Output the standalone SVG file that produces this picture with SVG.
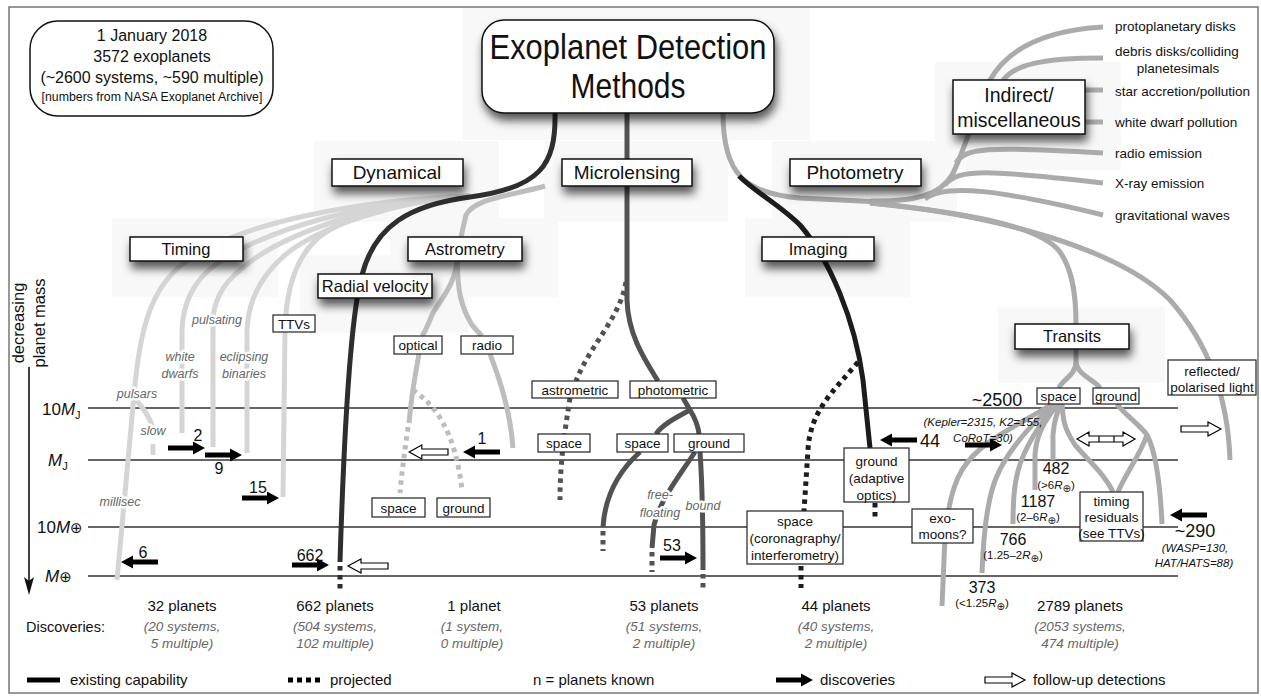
<svg xmlns="http://www.w3.org/2000/svg" width="1261" height="696" viewBox="0 0 1261 696">
<defs>
<style>
text { font-family: 'Liberation Sans', Arial, 'DejaVu Sans', sans-serif; fill:#111; }
.box { fill:#fff; stroke:#222; stroke-width:1.2; }
.sbox { fill:#fff; stroke:#111; stroke-width:1.5; filter:url(#sh); }
.bg { fill:#f8f8f8; }
.ln { fill:none; stroke-width:5; }
.tim { stroke:#d5d5d5; }
.ast { stroke:#bdbdbd; }
.pho { stroke:#ababab; }
.mic { stroke:#525252; }
.dyn { stroke:#2e2e2e; }
.img { stroke:#1c1c1c; }
.dot { stroke-dasharray:4.5 4.5; }
.axis { stroke:#333; stroke-width:1.4; fill:none; }
.it { font-style:italic; fill:#666; font-size:12.5px; stroke:#fff; stroke-width:5; paint-order:stroke; stroke-linejoin:round; }
.b2 { font-size:16.5px; text-anchor:middle; }
.b1 { font-size:19px; text-anchor:middle; }
.s { font-size:13.5px; text-anchor:middle; }
.n { font-size:16px; text-anchor:middle; }
.sm { font-size:11.5px; text-anchor:middle; }
.ind { font-size:13.5px; }
.dc { font-size:15px; text-anchor:middle; }
.di { font-size:13.5px; text-anchor:middle; font-style:italic; fill:#666; }
.lg { font-size:15px; }
</style>
<filter id="sh" x="-30%" y="-40%" width="170%" height="230%">
<feDropShadow dx="2" dy="7" stdDeviation="5" flood-color="#000" flood-opacity="0.65"/>
</filter>
<path id="ar" d="M0,-2.6 H25 V-6.5 L37,0 L25,6.5 V2.6 H0 Z" fill="#000"/>
<path id="oar" d="M0,-3 H27 V-7 L40,0 L27,7 V3 H0 Z" fill="#fff" stroke="#000" stroke-width="1.2"/>
</defs>
<rect width="1261" height="696" fill="#fff"/>
<rect x="9" y="7" width="1249" height="686" fill="none" stroke="#777" stroke-width="1.5"/>

<g id="shadow-backgrounds">
<rect class="bg" x="463" y="8" width="347" height="132"/>
<rect class="bg" x="314" y="141" width="185" height="81"/>
<rect class="bg" x="544" y="141" width="184" height="81"/>
<rect class="bg" x="772" y="141" width="185" height="81"/>
<rect class="bg" x="935" y="62" width="186" height="108"/>
<rect class="bg" x="112" y="218" width="166" height="79"/>
<rect class="bg" x="300" y="255" width="168" height="78"/>
<rect class="bg" x="390" y="218" width="168" height="79"/>
<rect class="bg" x="745" y="218" width="165" height="79"/>
<rect class="bg" x="998" y="307" width="167" height="76"/>
</g>

<g id="scale">
<line class="axis" x1="88" y1="408" x2="1178" y2="408"/>
<line class="axis" x1="88" y1="460" x2="1178" y2="460"/>
<line class="axis" x1="88" y1="527" x2="1178" y2="527"/>
<line class="axis" x1="88" y1="576" x2="1178" y2="576"/>
<line x1="29" y1="367" x2="29" y2="582" stroke="#111" stroke-width="1.6"/>
<path d="M24,577 L29,595 L34,577 L29,581 Z" fill="#111"/>
<text transform="translate(24,323) rotate(-90)" font-size="16.5" text-anchor="middle">decreasing</text>
<text transform="translate(45,323) rotate(-90)" font-size="16.5" text-anchor="middle">planet mass</text>
<text x="42" y="415" font-size="17">10<tspan font-style="italic">M</tspan><tspan font-size="11" dy="4">J</tspan></text>
<text x="48" y="466" font-size="17"><tspan font-style="italic">M</tspan><tspan font-size="11" dy="4">J</tspan></text>
<text x="37" y="533" font-size="17">10<tspan font-style="italic">M</tspan><tspan font-size="15">⊕</tspan></text>
<text x="45" y="582" font-size="17"><tspan font-style="italic">M</tspan><tspan font-size="15">⊕</tspan></text>
</g>

<g id="connectors">
<!-- timing -->
<path class="ln tim" d="M470,196 C360,200 240,222 185,262 C152,287 140,325 134,395 L117,580"/>
<path class="ln tim" d="M136,400 C145,410 150,418 153,428"/>
<path class="ln tim" d="M153,444 V455"/>
<path class="ln tim" d="M470,196 C380,200 270,225 215,265 C195,280 183,300 182,330 L182,433"/>
<path class="ln tim" d="M470,196 C390,200 295,228 250,262 C228,278 214,295 213,320 L213,447"/>
<path class="ln tim" d="M470,196 C400,200 320,226 285,255 C262,275 248,300 247,330 L247,453"/>
<path class="ln tim" d="M470,196 C420,200 350,212 318,238 C295,258 286,290 285,330 L283,497"/>
<!-- astrometry -->
<path class="ln ast" d="M545,186 C510,196 475,198 466,215 L461,237"/>
<path class="ln ast" d="M457,261 C455,285 440,300 432,315 C428,325 425,332 422,336"/>
<path class="ln ast" d="M419,354 C415,375 411,400 409,423"/>
<path class="ln ast dot" d="M408,427 C405,450 402,470 400,493"/>
<path class="ln ast dot" d="M413,390 C435,405 455,430 462,490"/>
<path class="ln ast" d="M457,261 C458,290 460,305 472,325 C478,332 480,334 482,336"/>
<path class="ln ast" d="M490,354 C500,380 510,410 513,448"/>
<!-- dynamical / radial velocity -->
<path class="ln dyn" d="M555,113 C556,165 540,188 470,197 C410,205 375,225 362,275 C352,310 345,400 340,562"/>
<path class="ln dyn dot" d="M340,566 V590"/>
<!-- microlensing -->
<path class="ln mic" d="M627,113 L627,300 C628,335 645,360 658,381"/>
<path class="ln mic dot" d="M626,282 C620,318 590,345 576,381"/>
<path class="ln mic dot" d="M570,398 C565,430 560,460 560,500"/>
<path class="ln mic" d="M683,398 L690,410 C695,418 698,425 699,434"/>
<path class="ln mic" d="M690,410 C675,418 662,425 656,434"/>
<path class="ln mic" d="M640,452 C620,470 605,495 603,527"/>
<path class="ln mic dot" d="M603,531 V551"/>
<path class="ln mic" d="M695,452 C680,475 660,500 654,525 L652,548"/>
<path class="ln mic dot" d="M652,552 V572"/>
<path class="ln mic" d="M700,452 C702,480 703,500 703,570"/>
<path class="ln mic dot" d="M703,574 V592"/>
<!-- photometry -->
<path class="ln pho" d="M723,113 C723,175 745,193 800,198 L880,202"/>
<path class="ln pho" d="M870,201 C915,202 940,195 952,175 C965,150 975,110 990,80 C1010,45 1050,30 1103,27"/>
<path class="ln pho" d="M1003,80 C1015,65 1040,58 1103,58"/>
<path class="ln pho" d="M1085,90 H1103"/>
<path class="ln pho" d="M1085,122 H1103"/>
<path class="ln pho" d="M956,163 C965,148 985,146 1103,153"/>
<path class="ln pho" d="M945,185 C958,168 990,170 1103,183"/>
<path class="ln pho" d="M925,199 C945,183 1000,190 1103,215"/>
<path class="ln pho" d="M870,203 C960,212 1040,225 1060,252 C1074,272 1076,300 1076,324"/>
<path class="ln pho" d="M870,203 C1000,215 1120,250 1170,300 C1210,345 1228,400 1230,460"/>
<path class="ln pho" d="M1076,349 L1076,362 C1076,375 1062,380 1059,388"/>
<path class="ln pho" d="M1076,362 C1077,375 1095,380 1100,388"/>
<path class="ln pho" d="M1052,404 C1020,425 980,440 962,470 C950,490 945,520 944,560 L942,606"/>
<path class="ln pho" d="M1054,404 C1025,430 1000,460 992,490 C985,515 983,545 982,573"/>
<path class="ln pho" d="M1056,404 C1035,430 1020,455 1016,480 C1013,495 1013,510 1013,524"/>
<path class="ln pho" d="M1058,404 C1045,420 1036,435 1035,455 L1035,490"/>
<path class="ln pho" d="M1060,404 C1055,420 1052,430 1053,445 L1053,460"/>
<path class="ln pho" d="M1062,404 C1063,420 1064,428 1075,445 C1090,462 1105,475 1113,492"/>
<path class="ln pho" d="M1117,404 C1125,415 1140,425 1147,435 C1155,450 1160,480 1162,524"/>
<path class="ln pho" d="M1147,435 C1140,455 1125,475 1118,492"/>
<!-- imaging -->
<path class="ln img" d="M739,176 C755,192 780,205 800,225 C830,260 855,320 863,380 L870,448"/>
<path class="ln img dot" d="M858,362 C835,390 810,410 808,450 L804,511"/>
<path class="ln img dot" d="M801,566 V588"/>
<path class="ln img dot" d="M875,503 V521"/>
</g>

<g id="info-box">
<rect x="30" y="21" width="243" height="95" rx="28" fill="#fff" stroke="#111" stroke-width="1.5"/>
<text x="152" y="41" font-size="16" text-anchor="middle">1 January 2018</text>
<text x="152" y="62" font-size="16" text-anchor="middle">3572 exoplanets</text>
<text x="152" y="83" font-size="16" text-anchor="middle">(~2600 systems, ~590 multiple)</text>
<text x="152" y="101" font-size="12.3" text-anchor="middle" fill="#777">[numbers from NASA Exoplanet Archive]</text>
</g>

<g id="title">
<rect class="sbox" x="482" y="20" width="292" height="93" rx="22"/>
<text x="628" y="59" font-size="35" text-anchor="middle" textLength="277" lengthAdjust="spacingAndGlyphs">Exoplanet Detection</text>
<text x="628" y="98" font-size="35" text-anchor="middle" textLength="115" lengthAdjust="spacingAndGlyphs">Methods</text>
</g>

<g id="dynamical"><rect class="sbox" x="332" y="159" width="131" height="27"/><text class="b1" x="397" y="179">Dynamical</text></g>
<g id="microlensing"><rect class="sbox" x="562" y="159" width="130" height="27"/><text class="b1" x="627" y="179">Microlensing</text></g>
<g id="photometry"><rect class="sbox" x="790" y="159" width="131" height="27"/><text class="b1" x="855" y="179">Photometry</text></g>
<g id="indirect"><rect class="sbox" x="953" y="80" width="132" height="54"/>
<text x="1019" y="102" font-size="19.5" text-anchor="middle">Indirect/</text>
<text x="1019" y="127" font-size="19.5" text-anchor="middle">miscellaneous</text></g>

<g id="indirect-labels">
<text class="ind" x="1115" y="31">protoplanetary disks</text>
<text class="ind" x="1115" y="56">debris disks/colliding</text>
<text class="ind" x="1178" y="73" text-anchor="middle">planetesimals</text>
<text class="ind" x="1115" y="96">star accretion/pollution</text>
<text class="ind" x="1115" y="127">white dwarf pollution</text>
<text class="ind" x="1115" y="158">radio emission</text>
<text class="ind" x="1115" y="188">X-ray emission</text>
<text class="ind" x="1115" y="220">gravitational waves</text>
</g>

<g id="timing"><rect class="sbox" x="130" y="237" width="113" height="24"/><text class="b2" x="186" y="255">Timing</text></g>
<g id="radial-velocity"><rect class="sbox" x="318" y="274" width="114" height="24"/><text class="b2" x="375" y="292">Radial velocity</text></g>
<g id="astrometry"><rect class="sbox" x="408" y="237" width="114" height="24"/><text class="b2" x="465" y="255">Astrometry</text></g>
<g id="imaging"><rect class="sbox" x="762" y="237" width="112" height="24"/><text class="b2" x="818" y="255">Imaging</text></g>
<g id="transits"><rect class="sbox" x="1015" y="324" width="114" height="25"/><text class="b2" x="1072" y="342">Transits</text></g>

<g id="timing-labels">
<text class="it" x="137" y="398" text-anchor="middle">pulsars</text>
<text class="it" x="153" y="435" text-anchor="middle">slow</text>
<text class="it" x="120" y="506" text-anchor="middle">millisec</text>
<text class="it" x="180" y="361" text-anchor="middle">white</text>
<text class="it" x="180" y="378" text-anchor="middle">dwarfs</text>
<text class="it" x="217" y="324" text-anchor="middle">pulsating</text>
<text class="it" x="244" y="361" text-anchor="middle">eclipsing</text>
<text class="it" x="244" y="378" text-anchor="middle">binaries</text>
</g>
<g id="ttvs"><rect class="box" x="273" y="315" width="42" height="17"/><text class="s" x="294" y="328.5">TTVs</text></g>

<g id="optical"><rect class="box" x="394" y="336" width="48" height="18"/><text class="s" x="418" y="350">optical</text></g>
<g id="radio"><rect class="box" x="461" y="336" width="52" height="18"/><text class="s" x="487" y="350">radio</text></g>
<g id="astro-space"><rect class="box" x="372" y="498" width="53" height="19"/><text class="s" x="398.5" y="512.5">space</text></g>
<g id="astro-ground"><rect class="box" x="437" y="498" width="53" height="19"/><text class="s" x="463.5" y="512.5">ground</text></g>

<g id="astrometric"><rect class="box" x="532" y="381" width="86" height="17"/><text class="s" x="575" y="394.5">astrometric</text></g>
<g id="photometric"><rect class="box" x="630" y="381" width="86" height="17"/><text class="s" x="673" y="394.5">photometric</text></g>
<g id="micro-space-a"><rect class="box" x="538" y="434" width="52" height="18"/><text class="s" x="564" y="448">space</text></g>
<g id="micro-space-p"><rect class="box" x="617" y="434" width="51" height="18"/><text class="s" x="642.5" y="448">space</text></g>
<g id="micro-ground"><rect class="box" x="674" y="434" width="70" height="18"/><text class="s" x="709" y="448">ground</text></g>
<g id="micro-labels">
<text class="it" x="660" y="499" text-anchor="middle">free-</text>
<text class="it" x="660" y="517" text-anchor="middle">floating</text>
<text class="it" x="703" y="510" text-anchor="middle">bound</text>
</g>

<g id="img-ground"><rect class="box" x="844" y="448" width="65" height="54"/>
<text class="s" x="876.5" y="466">ground</text><text class="s" x="876.5" y="483">(adaptive</text><text class="s" x="876.5" y="500">optics)</text></g>
<g id="img-space"><rect class="box" x="747" y="511" width="96" height="53"/>
<text class="s" x="795" y="526">space</text><text class="s" x="795" y="543">(coronagraphy/</text><text class="s" x="795" y="560">interferometry)</text></g>

<g id="tr-space"><rect class="box" x="1037" y="388" width="43" height="16"/><text class="s" x="1058.5" y="401">space</text></g>
<g id="tr-ground"><rect class="box" x="1093" y="388" width="46" height="16"/><text class="s" x="1116" y="401">ground</text></g>
<g id="reflected"><rect class="box" x="1168" y="360" width="88" height="35"/>
<text class="s" x="1212" y="376">reflected/</text><text class="s" x="1212" y="392">polarised light</text></g>
<g id="exomoons"><rect class="box" x="912" y="509" width="61" height="34"/>
<text class="s" x="942.5" y="523">exo-</text><text class="s" x="942.5" y="539">moons?</text></g>
<g id="timing-residuals"><rect class="box" x="1080" y="492" width="63" height="49"/>
<text class="s" x="1111.5" y="506">timing</text><text class="s" x="1111.5" y="522">residuals</text><text class="s" x="1111.5" y="538">(see TTVs)</text></g>

<g id="discovery-arrows">
<use href="#ar" transform="translate(168,448)"/>
<use href="#ar" transform="translate(205,455)"/>
<use href="#ar" transform="translate(242,498)"/>
<use href="#ar" transform="translate(158,562) scale(-1,1)"/>
<use href="#ar" transform="translate(292,565)"/>
<use href="#oar" transform="translate(388,566) scale(-1,1)"/>
<use href="#ar" transform="translate(500,452) scale(-1,1)"/>
<use href="#oar" transform="translate(448,452) scale(-0.97,1)"/>
<use href="#ar" transform="translate(660,558)"/>
<use href="#ar" transform="translate(917,440) scale(-1,1)"/>
<use href="#ar" transform="translate(965,445)"/>
<use href="#ar" transform="translate(1207,515) scale(-1,1)"/>
<use href="#oar" transform="translate(1181,429)"/>
<g transform="translate(1077,439)" fill="#fff" stroke="#000" stroke-width="1.2">
<path d="M0,0 L12,-7 V-3 H46 V-7 L58,0 L46,7 V3 H12 V7 Z"/>
<path d="M22,-3 V3 M37,-3 V3" fill="none"/>
</g>
</g>

<g id="counts">
<text class="n" x="198" y="441">2</text>
<text class="n" x="219" y="474">9</text>
<text class="n" x="258" y="493">15</text>
<text class="n" x="143" y="558">6</text>
<text class="n" x="310" y="561">662</text>
<text class="n" x="482" y="444">1</text>
<text class="n" x="672" y="551">53</text>
<text x="930" y="447" font-size="18" text-anchor="middle">44</text>
<text x="997" y="406" font-size="18" text-anchor="middle">~2500</text>
<text class="sm" x="983" y="426" font-style="italic" fill="#333">(Kepler=2315, K2=155,</text>
<text class="sm" x="983" y="442" font-style="italic" fill="#333">CoRoT=30)</text>
<text x="1195" y="537" font-size="18" text-anchor="middle">~290</text>
<text class="sm" x="1195" y="552" font-style="italic" fill="#333">(WASP=130,</text>
<text class="sm" x="1194" y="567" font-style="italic" fill="#333">HAT/HATS=88)</text>
<text class="n" x="1056" y="474">482</text>
<text class="sm" x="1056" y="489">(&gt;6<tspan font-style="italic">R</tspan><tspan font-size="10" dy="3">⊕</tspan><tspan dy="-3">)</tspan></text>
<text class="n" x="1038" y="507">1187</text>
<text class="sm" x="1038" y="521">(2–6<tspan font-style="italic">R</tspan><tspan font-size="10" dy="3">⊕</tspan><tspan dy="-3">)</tspan></text>
<text class="n" x="1013" y="545">766</text>
<text class="sm" x="1013" y="559">(1.25–2<tspan font-style="italic">R</tspan><tspan font-size="10" dy="3">⊕</tspan><tspan dy="-3">)</tspan></text>
<text class="n" x="982" y="593">373</text>
<text class="sm" x="982" y="607">(&lt;1.25<tspan font-style="italic">R</tspan><tspan font-size="10" dy="3">⊕</tspan><tspan dy="-3">)</tspan></text>
</g>

<g id="discoveries">
<text x="26" y="632" font-size="14.5">Discoveries:</text>
<text class="dc" x="182" y="611">32 planets</text>
<text class="di" x="182" y="631">(20 systems,</text>
<text class="di" x="182" y="648">5 multiple)</text>
<text class="dc" x="335" y="611">662 planets</text>
<text class="di" x="335" y="631">(504 systems,</text>
<text class="di" x="335" y="648">102 multiple)</text>
<text class="dc" x="474" y="611">1 planet</text>
<text class="di" x="472" y="631">(1 system,</text>
<text class="di" x="472" y="648">0 multiple)</text>
<text class="dc" x="664" y="611">53 planets</text>
<text class="di" x="664" y="631">(51 systems,</text>
<text class="di" x="664" y="648">2 multiple)</text>
<text class="dc" x="836" y="611">44 planets</text>
<text class="di" x="836" y="631">(40 systems,</text>
<text class="di" x="836" y="648">2 multiple)</text>
<text class="dc" x="1080" y="611">2789 planets</text>
<text class="di" x="1080" y="631">(2053 systems,</text>
<text class="di" x="1080" y="648">474 multiple)</text>
</g>

<g id="legend">
<line x1="27" y1="680" x2="60" y2="680" stroke="#000" stroke-width="5"/>
<text class="lg" x="70" y="685">existing capability</text>
<line x1="288" y1="680" x2="323" y2="680" stroke="#000" stroke-width="5" stroke-dasharray="5 4"/>
<text class="lg" x="330" y="685">projected</text>
<text class="lg" x="533" y="685">n = planets known</text>
<use href="#ar" transform="translate(776,680)"/>
<text class="lg" x="820" y="685">discoveries</text>
<use href="#oar" transform="translate(985,680)"/>
<text class="lg" x="1033" y="685">follow-up detections</text>
</g>
</svg>
